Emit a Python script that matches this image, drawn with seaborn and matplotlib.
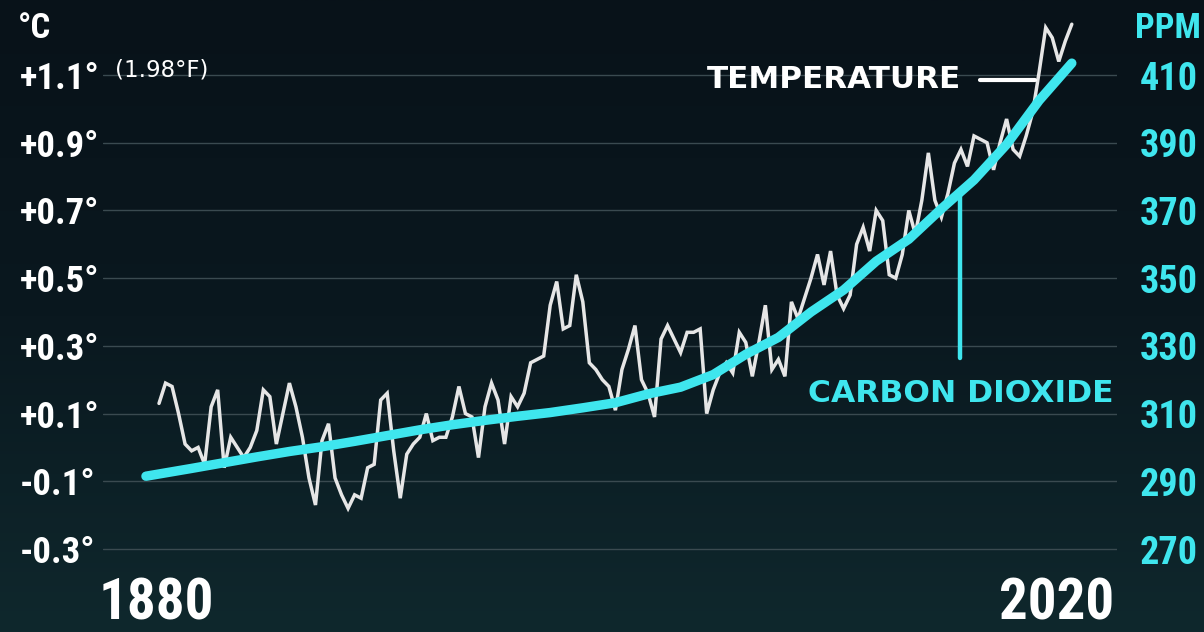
import numpy as np
import pandas as pd
import matplotlib
matplotlib.use("Agg")
import matplotlib.pyplot as plt
import matplotlib.font_manager as fm
from matplotlib.lines import Line2D
import seaborn as sns

# ---------------- data ----------------
years = list(range(1880, 2021))
temp_anomaly = [
    0.13, 0.19, 0.18, 0.10, 0.01, -0.01, 0.00, -0.05, 0.12, 0.17,   # 1880s
    -0.06, 0.03, 0.00, -0.03, 0.00, 0.05, 0.17, 0.15, 0.01, 0.10,   # 1890s
    0.19, 0.12, 0.03, -0.09, -0.17, 0.02, 0.07, -0.09, -0.14, -0.18,  # 1900s
    -0.14, -0.15, -0.06, -0.05, 0.14, 0.16, -0.01, -0.15, -0.02, 0.01,  # 1910s
    0.03, 0.10, 0.02, 0.03, 0.03, 0.09, 0.18, 0.10, 0.09, -0.03,    # 1920s
    0.12, 0.19, 0.14, 0.01, 0.15, 0.12, 0.16, 0.25, 0.26, 0.27,     # 1930s
    0.42, 0.49, 0.35, 0.36, 0.51, 0.43, 0.25, 0.23, 0.20, 0.18,     # 1940s
    0.11, 0.23, 0.29, 0.36, 0.20, 0.16, 0.09, 0.32, 0.36, 0.32,     # 1950s
    0.28, 0.34, 0.34, 0.35, 0.10, 0.17, 0.22, 0.25, 0.22, 0.34,     # 1960s
    0.31, 0.21, 0.31, 0.42, 0.23, 0.26, 0.21, 0.43, 0.38, 0.44,     # 1970s
    0.50, 0.57, 0.48, 0.58, 0.45, 0.41, 0.45, 0.60, 0.65, 0.58,     # 1980s
    0.70, 0.67, 0.51, 0.50, 0.57, 0.70, 0.63, 0.73, 0.87, 0.73,     # 1990s
    0.68, 0.75, 0.84, 0.88, 0.83, 0.92, 0.91, 0.90, 0.82, 0.90,     # 2000s
    0.97, 0.88, 0.86, 0.92, 0.99, 1.11, 1.24, 1.21, 1.14, 1.20,     # 2010s
    1.25,                                                           # 2020
]
co2_years = [1878, 1885, 1890, 1895, 1900, 1905, 1910, 1915, 1920, 1925,
             1930, 1935, 1940, 1945, 1950, 1955, 1960, 1965, 1970, 1975,
             1980, 1985, 1990, 1995, 2000, 2005, 2010, 2015, 2020]
co2_ppm = [291.5, 293.8, 295.5, 297.2, 298.8, 300.2, 301.8, 303.5, 305.2, 306.7,
           308.0, 309.2, 310.3, 311.7, 313.2, 315.8, 317.8, 321.5, 327.5, 332.5,
           340.0, 346.5, 355.0, 361.5, 370.5, 379.0, 389.5, 402.5, 413.5]

temp_ticks = [-0.3, -0.1, 0.1, 0.3, 0.5, 0.7, 0.9, 1.1]
temp_tick_labels = ["-0.3°", "-0.1°", "+0.1°", "+0.3°", "+0.5°", "+0.7°", "+0.9°", "+1.1°"]
ppm_ticks = [270, 290, 310, 330, 350, 370, 390, 410]
ppm_tick_labels = ["270", "290", "310", "330", "350", "370", "390", "410"]
year_labels = ["1880", "2020"]

# ---------------- style ----------------
CYAN = "#3fe6ee"
WHITE = "#ffffff"
TEMP_COL = "#e6e6e6"
GRID = "#3a4a50"

sns.set_theme(style="dark", rc={"axes.facecolor": "none", "figure.facecolor": "#0b1820"})
plt.rcParams["font.family"] = ["DejaVu Sans"]


def find_condensed():
    """Pick an installed bold condensed font (for the numeric labels)."""
    prefs = ["Roboto Condensed", "Liberation Sans Narrow", "DejaVu Sans Condensed",
             "Noto Sans Condensed", "Open Sans Condensed", "Noto Sans", "Roboto",
             "DejaVu Sans"]
    cands = []
    for f in fm.fontManager.ttflist:
        st = str(f.stretch).lower()
        is_cond = ("condensed" in st or "narrow" in st or "Condensed" in f.name
                   or "Narrow" in f.name or "Condensed" in f.fname or "Narrow" in f.fname)
        try:
            w = int(f.weight)
        except Exception:
            w = 700 if "bold" in str(f.weight).lower() else 400
        if is_cond and w >= 600 and f.style == "normal" and "Semi" not in f.fname \
                and "Extra" not in f.fname and "Black" not in f.fname:
            rank = prefs.index(f.name) if f.name in prefs else len(prefs)
            cands.append((rank, w != 700, f.fname))
    cands.sort()
    if cands:
        return fm.FontProperties(fname=cands[0][2])
    return fm.FontProperties(family="DejaVu Sans", weight="bold", stretch="condensed")


cond_fp = find_condensed()

W, H, DPI = 1204, 632, 100
fig = plt.figure(figsize=(W / DPI, H / DPI), dpi=DPI)

# background gradient
bg = fig.add_axes([0, 0, 1, 1], zorder=-10)
top = np.array([8, 18, 25]) / 255
mid = np.array([10, 24, 31]) / 255
bot = np.array([15, 40, 45]) / 255
t = np.linspace(0, 1, 256)[:, None]
grad = np.where(t < 0.5, top + (mid - top) * (t / 0.5), mid + (bot - mid) * ((t - 0.5) / 0.5))
bg.imshow(grad[:, None, :].repeat(2, axis=1), aspect="auto", extent=[0, 1, 0, 1])
bg.set_axis_off()

# main axes: spans the gridline extent horizontally
x_left, x_right = 103, 1117
ax = fig.add_axes([x_left / W, 0, (x_right - x_left) / W, 1])
ax.set_facecolor("none")
px_per_year = 6.52
ax.set_xlim(1880 - (159 - x_left) / px_per_year, 1880 + (x_right - 159) / px_per_year)
px_per_deg = (549 - 75) / 1.4
ax.set_ylim(1.1 - (H - 75) / px_per_deg, 1.1 + 75 / px_per_deg)

temp_df = pd.DataFrame({"year": years, "temp": temp_anomaly})
sns.lineplot(data=temp_df, x="year", y="temp", ax=ax, color=TEMP_COL, lw=2.5,
             solid_joinstyle="miter", zorder=3)

ax.set_yticks(temp_ticks)
ax.set_yticklabels(temp_tick_labels)
ax.grid(axis="y", color=GRID, lw=1.0)
ax.grid(axis="x", visible=False)
ax.set_xticks([])
ax.set_xlabel("")
ax.set_ylabel("")
for s in ax.spines.values():
    s.set_visible(False)
ax.tick_params(axis="y", length=0, pad=(x_left - 20) * 72 / DPI)
for lab in ax.get_yticklabels():
    lab.set_fontproperties(cond_fp)
    lab.set_fontsize(26.5)
    lab.set_color(WHITE)
    lab.set_horizontalalignment("left")

# CO2 on twin axis
ax2 = ax.twinx()
lo, hi = ax.get_ylim()
ax2.set_ylim(300 + 100 * lo, 300 + 100 * hi)
co2_df = pd.DataFrame({"year": co2_years, "ppm": co2_ppm})
sns.lineplot(data=co2_df, x="year", y="ppm", ax=ax2, color=CYAN, lw=6.8,
             solid_capstyle="round", solid_joinstyle="round", zorder=4)
ax2.set_yticks(ppm_ticks)
ax2.set_yticklabels(ppm_tick_labels)
ax2.grid(False)
ax2.set_ylabel("")
ax2.set_xlabel("")
for s in ax2.spines.values():
    s.set_visible(False)
ax2.tick_params(axis="y", length=0, pad=(1140 - x_right) * 72 / DPI)
for lab in ax2.get_yticklabels():
    lab.set_fontproperties(cond_fp)
    lab.set_fontsize(27.5)
    lab.set_color(CYAN)


def fx(px):
    return px / W


def fy(py):
    return 1 - py / H


# unit labels
fig.text(fx(18), fy(28), "°C", fontproperties=cond_fp, fontsize=25, color=WHITE,
         ha="left", va="center")
fig.text(fx(1168), fy(28), "PPM", fontproperties=cond_fp, fontsize=25, color=CYAN,
         ha="center", va="center")
fig.text(fx(115), fy(70), "(1.98°F)", fontsize=16.5, color=WHITE, ha="left", va="center")

# year labels
fig.text(fx(156.5), fy(619), year_labels[0], fontproperties=cond_fp, fontsize=41,
         color=WHITE, ha="center", va="baseline")
fig.text(fx(1057), fy(619), year_labels[1], fontproperties=cond_fp, fontsize=41,
         color=WHITE, ha="center", va="baseline")

# series annotations
fig.text(fx(707), fy(80), "TEMPERATURE", fontsize=22.3, fontweight="bold",
         color=WHITE, ha="left", va="center")
fig.add_artist(Line2D([fx(980), fx(1035)], [fy(80), fy(80)], color=WHITE, lw=3))
fig.text(fx(808), fy(393), "CARBON DIOXIDE", fontsize=22.6, fontweight="bold",
         color=CYAN, ha="left", va="center")
fig.add_artist(Line2D([fx(960), fx(960)], [fy(193), fy(358)], color=CYAN, lw=3.2))

fig.savefig("out.png", dpi=DPI)
